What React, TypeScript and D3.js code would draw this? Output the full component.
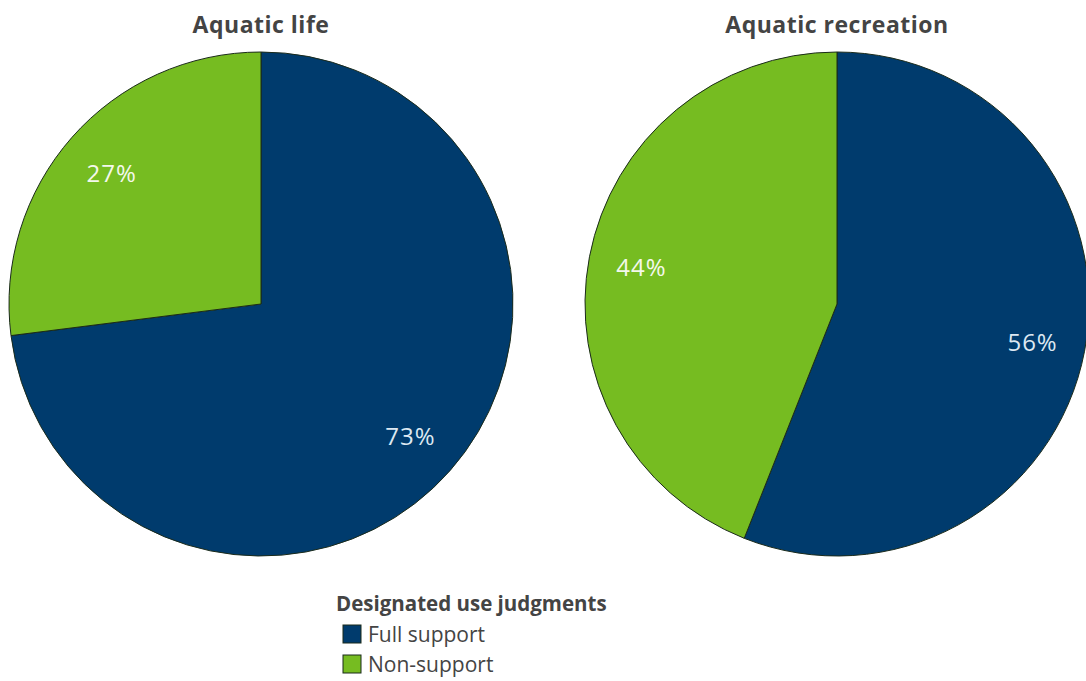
import * as d3 from "d3";
import { useEffect, useRef } from "react";

const categories = ["Full support", "Non-support"];
const panels = ["Aquatic life", "Aquatic recreation"];
const aquaticLife = [73, 27];
const aquaticRecreation = [56, 44];
const legendTitle = "Designated use judgments";

const colors = ["#003b6d", "#76bc21"];

export default function App() {
  const ref = useRef<SVGSVGElement>(null);

  useEffect(() => {
    const width = 1086;
    const height = 681;
    const radius = 252;
    const font = "'Open Sans', sans-serif";

    const svg = d3.select(ref.current);
    svg.selectAll("*").remove();
    svg.attr("width", width).attr("height", height);

    const color = d3.scaleOrdinal<string, string>().domain(categories).range(colors);
    const cx = d3.scalePoint<string>().domain(panels).range([261, 837]);

    const pie = d3.pie<number>().sort(null).value(d => d);
    const arc = d3.arc<d3.PieArcDatum<number>>().innerRadius(0).outerRadius(radius);
    const labelArc = d3.arc<d3.PieArcDatum<number>>().innerRadius(radius * 0.79).outerRadius(radius * 0.79);

    const series = [aquaticLife, aquaticRecreation];

    panels.forEach((name, i) => {
      const g = svg.append("g").attr("transform", `translate(${cx(name)},304)`);

      svg.append("text")
        .attr("x", cx(name)!)
        .attr("y", 33)
        .attr("text-anchor", "middle")
        .attr("font-family", font)
        .attr("font-weight", "bold")
        .attr("font-size", 23)
        .attr("letter-spacing", 0.5)
        .attr("fill", "#444")
        .text(name);

      const arcs = pie(series[i]);

      g.selectAll("path")
        .data(arcs)
        .enter()
        .append("path")
        .attr("d", arc)
        .attr("fill", (d, j) => color(categories[j]))
        .attr("stroke", "#1b2b1b")
        .attr("stroke-width", 1);

      g.selectAll("text")
        .data(arcs)
        .enter()
        .append("text")
        .attr("transform", d => `translate(${labelArc.centroid(d)})`)
        .attr("text-anchor", "middle")
        .attr("dominant-baseline", "central")
        .attr("font-family", font)
        .attr("font-size", 24)
        .attr("letter-spacing", 1)
        .attr("fill", (d, j) => (j === 0 ? "#dde8f2" : "#f4f8ec"))
        .text(d => `${d.data}%`);
    });

    // legend
    const legend = svg.append("g").attr("transform", "translate(336,0)");
    legend.append("text")
      .attr("x", 0)
      .attr("y", 611)
      .attr("font-family", font)
      .attr("font-weight", "bold")
      .attr("font-size", 20.5)
      .attr("fill", "#444")
      .text(legendTitle);

    const ly = d3.scalePoint<string>().domain(categories).range([634, 664]);
    const items = legend.selectAll("g.item")
      .data(categories)
      .enter()
      .append("g")
      .attr("class", "item")
      .attr("transform", d => `translate(0,${ly(d)})`);

    items.append("rect")
      .attr("x", 7)
      .attr("y", -9)
      .attr("width", 18)
      .attr("height", 18)
      .attr("fill", d => color(d))
      .attr("stroke", "#1b2b1b")
      .attr("stroke-width", 1);

    items.append("text")
      .attr("x", 32)
      .attr("y", 0)
      .attr("dominant-baseline", "central")
      .attr("font-family", font)
      .attr("font-size", 21)
      .attr("fill", "#444")
      .text(d => d);
  }, []);

  return <svg ref={ref} style={{ position: "absolute", left: 0, top: 0 }} />;
}
